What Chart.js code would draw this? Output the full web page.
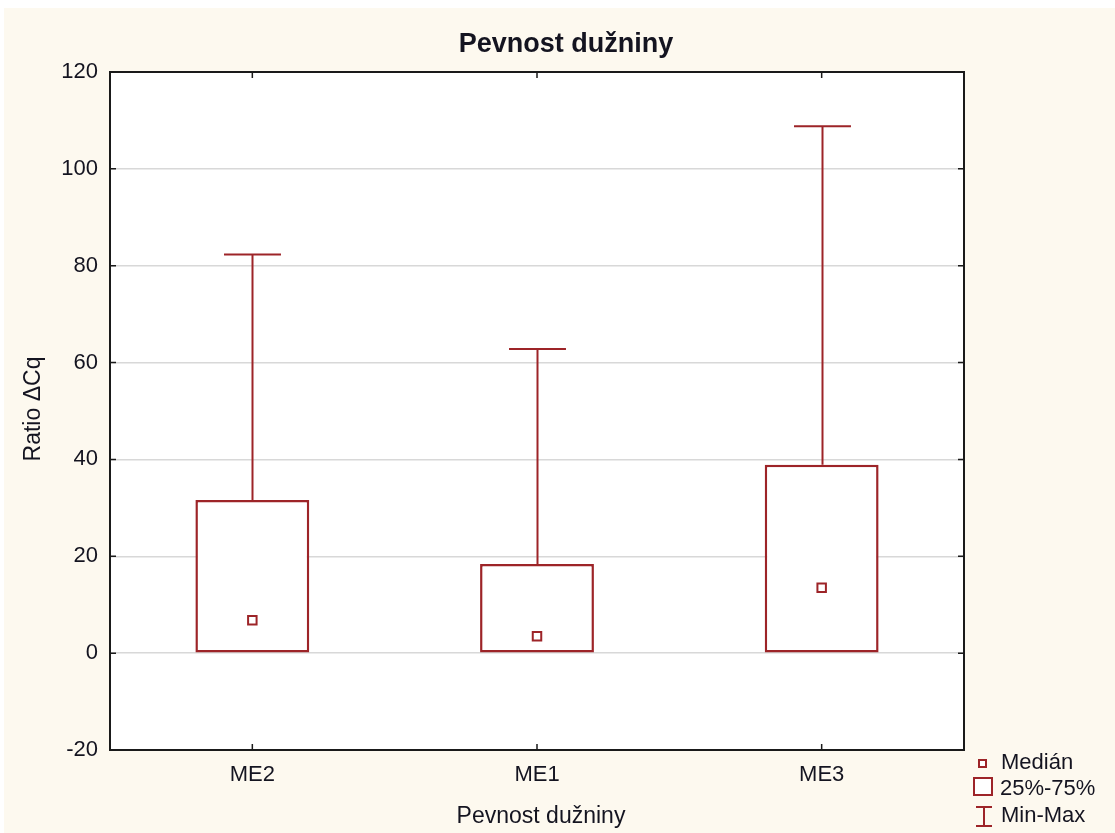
<!DOCTYPE html>
<html>
<head>
<meta charset="utf-8">
<title>Pevnost dužniny</title>
<script src="https://cdn.jsdelivr.net/npm/chart.js@4/dist/chart.umd.min.js"></script>
<style>
  html, body { margin: 0; padding: 0; background: #ffffff; }
  #wrap { width: 1115px; height: 833px; }
</style>
</head>
<body>
<div id="wrap"><canvas id="c" width="1115" height="833"></canvas></div>
<script>
// Categories and box-plot statistics (Ratio ΔCq)
const categories = ['ME2', 'ME1', 'ME3'];
const minValues    = [0, 0, 0];
const q1Values     = [0, 0, 0];
const medianValues = [6.8, 3.5, 13.5];
const q3Values     = [31.6, 18.4, 38.9];
const maxValues    = [82.3, 62.8, 108.8];
const yTicks = [-20, 0, 20, 40, 60, 80, 100, 120];

const chartTitle = 'Pevnost dužniny';
const xTitle = 'Pevnost dužniny';
const yTitle = 'Ratio ΔCq';
const legendLabels = ['Medián', '25%-75%', 'Min-Max'];

const RED = '#9d2428';
const INK = '#141420';
const CREAM = '#fdf9ef';
const FONT = "'Liberation Sans', Arial, sans-serif";

const PLOT = { left: 110, right: 964, top: 72, bottom: 750 };

// Background, plot frame, whiskers, titles and legend
const decor = {
  id: 'decor',
  beforeDraw(chart) {
    const ctx = chart.ctx, a = chart.chartArea;
    ctx.save();
    ctx.fillStyle = '#ffffff';
    ctx.fillRect(0, 0, chart.width, chart.height);
    ctx.fillStyle = CREAM;
    ctx.fillRect(4, 8, chart.width - 4, chart.height - 8);
    ctx.fillStyle = '#ffffff';
    ctx.fillRect(a.left, a.top, a.right - a.left, a.bottom - a.top);
    ctx.restore();
  },
  afterDatasetsDraw(chart) {
    const ctx = chart.ctx;
    const xs = chart.scales.x, ys = chart.scales.y;
    const catW = xs.getPixelForValue(1) - xs.getPixelForValue(0);
    const capHalf = catW * 0.1;
    ctx.save();
    ctx.strokeStyle = RED;
    ctx.lineWidth = 2;
    categories.forEach((c, i) => {
      const x = Math.round(xs.getPixelForValue(i)) + 0.5;
      const pairs = [[q3Values[i], maxValues[i]], [q1Values[i], minValues[i]]];
      pairs.forEach(([from, to]) => {
        if (from === to) return;
        const y0 = ys.getPixelForValue(from), y1 = ys.getPixelForValue(to);
        ctx.beginPath();
        ctx.moveTo(x, y0); ctx.lineTo(x, y1);
        ctx.moveTo(x - capHalf, y1); ctx.lineTo(x + capHalf, y1);
        ctx.stroke();
      });
    });
    ctx.restore();
  },
  afterDraw(chart) {
    const ctx = chart.ctx, a = chart.chartArea;
    const xs = chart.scales.x, ys = chart.scales.y;
    ctx.save();
    // frame
    ctx.strokeStyle = '#1a1a1a';
    ctx.lineWidth = 2;
    ctx.strokeRect(a.left, a.top, a.right - a.left, a.bottom - a.top);
    // inward tick marks
    ctx.lineWidth = 1.5;
    ctx.beginPath();
    yTicks.forEach(v => {
      const y = ys.getPixelForValue(v);
      ctx.moveTo(a.left, y); ctx.lineTo(a.left + 6, y);
      ctx.moveTo(a.right, y); ctx.lineTo(a.right - 6, y);
    });
    categories.forEach((c, i) => {
      const x = xs.getPixelForValue(i);
      ctx.moveTo(x, a.bottom); ctx.lineTo(x, a.bottom - 6);
      ctx.moveTo(x, a.top); ctx.lineTo(x, a.top + 6);
    });
    ctx.stroke();

    // titles
    ctx.fillStyle = INK;
    ctx.textBaseline = 'alphabetic';
    ctx.textAlign = 'center';
    ctx.font = 'bold 27px ' + FONT;
    ctx.fillText(chartTitle, 566, 52);
    ctx.font = '23px ' + FONT;
    ctx.fillText(xTitle, 541, 823);
    ctx.save();
    ctx.translate(40, 409);
    ctx.rotate(-Math.PI / 2);
    ctx.fillText(yTitle, 0, 0);
    ctx.restore();

    // legend
    ctx.strokeStyle = RED;
    ctx.lineWidth = 2;
    ctx.fillStyle = '#ffffff';
    ctx.fillRect(979, 760, 7, 7);
    ctx.strokeRect(979, 760, 7, 7);
    ctx.fillRect(974, 778, 18, 17);
    ctx.strokeRect(974, 778, 18, 17);
    ctx.beginPath();
    ctx.moveTo(976, 807); ctx.lineTo(992, 807);
    ctx.moveTo(984, 807); ctx.lineTo(984, 826);
    ctx.moveTo(976, 826); ctx.lineTo(992, 826);
    ctx.stroke();
    ctx.fillStyle = INK;
    ctx.textAlign = 'left';
    ctx.font = '22px ' + FONT;
    ctx.fillText(legendLabels[0], 1001, 769);
    ctx.fillText(legendLabels[1], 1000, 795);
    ctx.fillText(legendLabels[2], 1001, 822);
    ctx.restore();
  }
};

new Chart(document.getElementById('c'), {
  data: {
    labels: categories,
    datasets: [
      {
        type: 'bar',
        label: legendLabels[1],
        data: q1Values.map((v, i) => [v, q3Values[i]]),
        backgroundColor: '#ffffff',
        borderColor: RED,
        borderWidth: 2.5,
        borderSkipped: false,
        barPercentage: 0.4,
        categoryPercentage: 1.0,
        order: 2
      },
      {
        type: 'line',
        label: legendLabels[0],
        data: medianValues,
        showLine: false,
        pointStyle: 'rect',
        pointRadius: 6,
        pointBorderWidth: 2,
        pointBackgroundColor: '#ffffff',
        pointBorderColor: RED,
        order: 1
      }
    ]
  },
  options: {
    responsive: false,
    animation: false,
    layout: { padding: { top: PLOT.top, left: 0, right: 1115 - PLOT.right, bottom: 0 } },
    plugins: { legend: { display: false }, title: { display: false }, tooltip: { enabled: false } },
    scales: {
      x: {
        type: 'category',
        offset: true,
        grid: { display: false, drawTicks: false },
        border: { display: false },
        ticks: { color: INK, font: { family: FONT, size: 22 }, padding: 12, maxRotation: 0 },
        afterFit(s) { s.height = 833 - PLOT.bottom; }
      },
      y: {
        type: 'linear',
        min: -20,
        max: 120,
        afterBuildTicks(s) { s.ticks = yTicks.map(v => ({ value: v })); },
        grid: { color: '#d8d8d8', lineWidth: 1.5, drawTicks: false },
        border: { display: false },
        ticks: { color: INK, font: { family: FONT, size: 22 }, padding: 12 },
        afterFit(s) { s.width = PLOT.left; }
      }
    }
  },
  plugins: [decor]
});
</script>
</body>
</html>
